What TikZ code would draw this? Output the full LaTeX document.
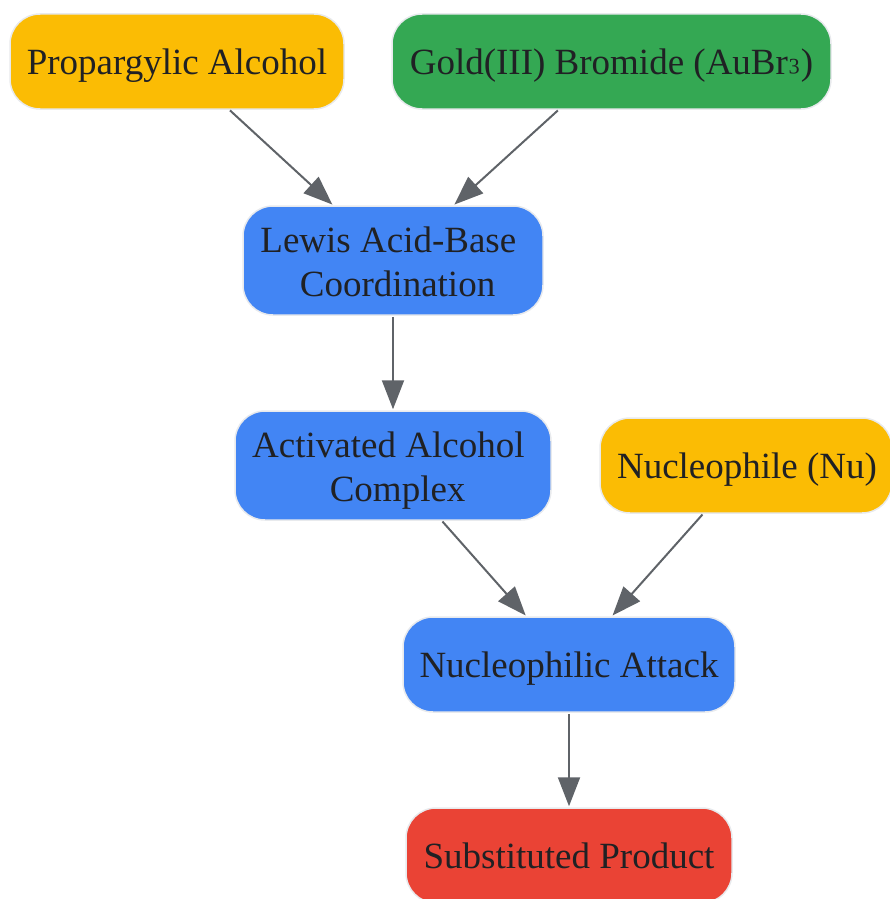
\documentclass[tikz,border=0pt]{standalone}
\usepackage{fontspec}
\setmainfont{Liberation Serif}
\usetikzlibrary{arrows.meta}
\definecolor{gyellow}{HTML}{FBBC04}
\definecolor{ggreen}{HTML}{34A853}
\definecolor{gblue}{HTML}{4285F4}
\definecolor{gred}{HTML}{EA4335}
\definecolor{edgegray}{HTML}{5F6368}
\definecolor{txt}{HTML}{202124}
\definecolor{rim}{HTML}{E8EAED}
\newcommand{\twolines}[2]{\raisebox{-5pt}[\height][\depth]{\begin{tabular}{@{}c@{}}#1\kern0.25em\\\kern0.25em #2\end{tabular}}}
\begin{document}
\begin{tikzpicture}[x=1pt,y=-1pt,
  box/.style={rectangle, rounded corners=30pt, draw=rim, line width=1.5pt,
    text=txt, font=\fontsize{37}{44}\selectfont, inner sep=0pt},
  oneline/.style={box, text height=34pt, text depth=8pt},
  twoline/.style={box},
  conn/.style={draw=edgegray, line width=2pt, -{Triangle[length=29pt,width=22pt]},
    shorten <=1pt, shorten >=1pt}]
\useasboundingbox (0,0) rectangle (889,899);
\node[oneline, fill=gyellow, minimum width=334pt, minimum height=95pt] (prop) at (177,61.5) {Propargylic Alcohol};
\node[oneline, fill=ggreen, minimum width=439pt, minimum height=95pt] (gold) at (611.5,61.5) {Gold(III) Bromide (AuBr\raisebox{0.22em}{₃})};
\node[twoline, fill=gblue, minimum width=300pt, minimum height=109pt] (lewis) at (393,260.5) {\twolines{Lewis Acid-Base}{Coordination}};
\node[twoline, fill=gblue, minimum width=316pt, minimum height=109pt] (act) at (393,465.5) {\twolines{Activated Alcohol}{Complex}};
\node[oneline, fill=gyellow, minimum width=292pt, minimum height=95pt] (nuc) at (746,465.5) {\kern2pt Nucleophile (Nu)};
\node[oneline, fill=gblue, minimum width=332pt, minimum height=95pt] (attack) at (569,664.5) {Nucleophilic Attack};
\node[oneline, fill=gred, minimum width=326pt, minimum height=95pt] (prod) at (569,855.5) {Substituted Product};
\draw[conn] (prop) -- (lewis);
\draw[conn] (gold) -- (lewis);
\draw[conn] (lewis) -- (act);
\draw[conn] (act) -- (attack);
\draw[conn] (nuc) -- (attack);
\draw[conn] (attack) -- (prod);
\end{tikzpicture}
\end{document}
